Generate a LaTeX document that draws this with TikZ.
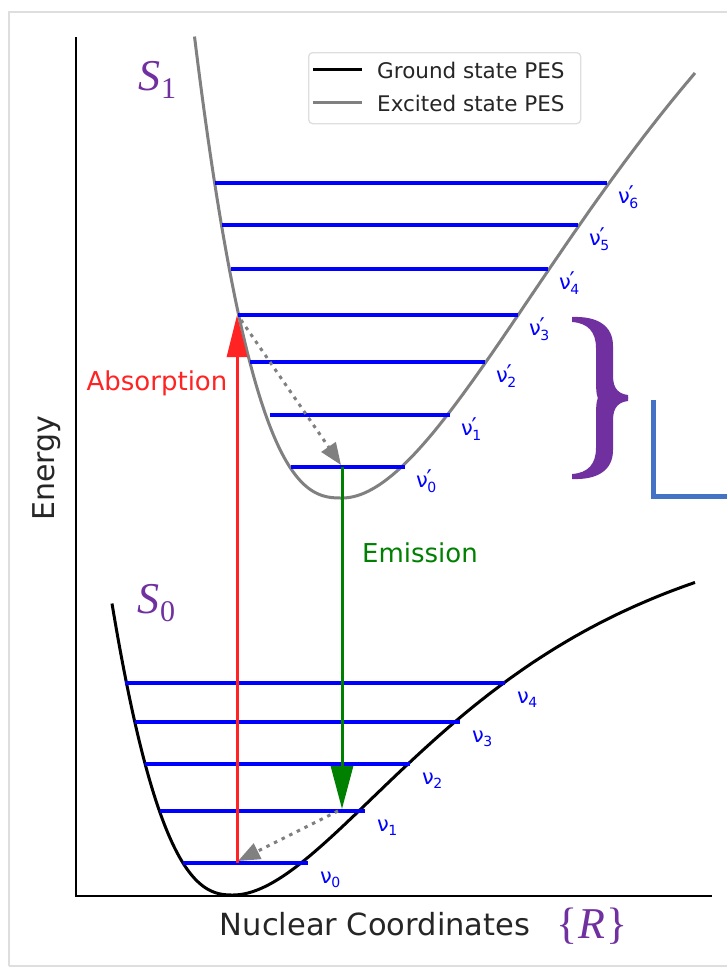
\documentclass[tikz,border=0pt]{standalone}
\usepackage{graphicx}
\usepackage[no-math]{fontspec}
\setmainfont{DejaVu Sans}
\newfontfamily\serifs{Liberation Serif}
\usetikzlibrary{arrows.meta}
\definecolor{lvblue}{RGB}{0,0,255}
\definecolor{pesgray}{RGB}{128,128,128}
\definecolor{spurple}{RGB}{112,48,160}
\definecolor{lblue}{RGB}{68,114,196}
\definecolor{absred}{RGB}{255,35,35}
\definecolor{emgreen}{RGB}{0,128,0}
\definecolor{framegray}{RGB}{222,222,222}
\newcommand\nul[1]{ν\kern-0.5pt\raisebox{-4pt}{\fontsize{14}{14}\selectfont #1}}
\newcommand\nupl[1]{ν\kern-1.2pt\raisebox{0.5pt}{\fontsize{23}{23}\selectfont ′}\kern-4.5pt\raisebox{-5pt}{\fontsize{14}{14}\selectfont #1}}
\newcommand\stlab[1]{{\itshape S}\kern1pt\raisebox{-8pt}{\fontsize{30}{30}\selectfont #1}}
\tikzset{
  pes/.style={line width=3pt, line join=round},
  level/.style={lvblue, line width=3.3pt},
  lvlab/.style={lvblue, font=\fontsize{21}{21}\selectfont, anchor=base west, inner sep=0pt},
  slab/.style={spurple, font=\serifs\fontsize{44}{44}\selectfont, inner sep=0pt},
  relax/.style={pesgray, line width=3pt, dash pattern=on 3.5pt off 5pt, -{Triangle[length=22pt,width=17pt]}},
}
\begin{document}
\begin{tikzpicture}[x=1pt,y=-1pt]
\useasboundingbox (0,0) rectangle (727,969);
\fill[white] (0,0) rectangle (727,969);
% outer frame
\draw[framegray, line width=1.5pt] (9,966) -- (9,12) -- (729,12);
\draw[framegray, line width=1.5pt] (9,966) -- (729,966);
% axes
\draw[black, line width=1.8pt] (76,37) -- (76,896) -- (712,896);
% legend
\node (legbox) [draw=framegray, line width=1.3pt, rounded corners=4pt, minimum width=272pt, minimum height=71pt, anchor=north west, inner sep=0pt] at (308,52) {};
\draw[black, line width=3pt] (313,69) -- (362,69);
\draw[pesgray, line width=3pt] (313,102) -- (362,102);
\node (leg1) [anchor=west, inner sep=0pt, font=\fontsize{21.5}{21.5}\selectfont, text=black!85] at (377,70) {Ground state PES};
\node (leg2) [anchor=west, inner sep=0pt, font=\fontsize{21.5}{21.5}\selectfont, text=black!85] at (377,103) {Excited state PES};
% axis labels
\node (xlab) [anchor=base, inner sep=0pt, font=\fontsize{30.5}{30.5}\selectfont, text=black!85] at (375,935) {Nuclear Coordinates};
\node (ylab) [rotate=90, inner sep=0pt, font=\fontsize{30}{30}\selectfont, text=black!85] at (47,468) {Energy};
% PES curves
\draw[pes, pesgray] plot[domain=194.5:341.9, samples=80] (\x, {498-168*((342-\x)/100)^2*sqrt((342-\x)/100)^1.2})
  -- plot[domain=342:695, samples=120] (\x, {498-801*(1-exp(-0.0037*(\x-342)))^2});
\draw[pes, black] plot[domain=112:233, samples=80] (\x, {895-181*((233-\x)/100)^2*sqrt((233-\x)/100)})
  -- plot[domain=233:695, samples=120] (\x, {895-385*(1-exp(-0.005*(\x-233)))^2});
% vibrational levels, excited
\foreach \y/\l/\r/\s/\n in {183/215/607/6/e6, 225/222/578/5/e5, 269/231/548/4/e4, 315/238/518/3/e3, 362/250/485/2/e2, 415/270/450/1/e1, 467/291/405/0/e0}{
  \draw[level] (\l,\y) -- (\r,\y);
  \node[lvlab] (\n) at (\r+11,\y+20) {\nupl{\s}};
}
% vibrational levels, ground
\foreach \y/\l/\r/\s/\n in {683/125/505/4/g4, 722/135/460/3/g3, 764/145/410/2/g2, 811/160/365/1/g1, 863/183/308/0/g0}{
  \draw[level] (\l,\y) -- (\r,\y);
  \node[lvlab] (\n) at (\r+12,\y+20) {\nul{\s}};
}
% transitions
\coordinate (absA) at (237,863);
\coordinate (absB) at (237,315);
\coordinate (emA) at (342,467);
\coordinate (emB) at (342,809);
\coordinate (relA) at (241,320);
\coordinate (relB) at (341,465);
\coordinate (relC) at (338,811);
\coordinate (relD) at (238,861);
\draw[relax] (relA) -- (relB);
\draw[relax] (relC) -- (relD);
\draw[absred, line width=3pt, -{Triangle[length=42pt,width=20pt]}] (absA) -- (absB);
\draw[emgreen, line width=3pt, -{Triangle[length=43pt,width=22pt]}] (emA) -- (emB);
\node (abslab) [absred, inner sep=0pt, font=\fontsize{26}{26}\selectfont] at (157,383) {Absorption};
\node (emlab) [emgreen, inner sep=0pt, font=\fontsize{26}{26}\selectfont] at (420,553) {Emission};
% state labels
\node (s1) [slab] at (157,80) {\stlab{1}};
\node (s0) [slab] at (156,603) {\stlab{0}};
\node (rlab) [slab] at (592,926) {\{\kern1pt{\itshape R}\kern1pt\}};
% brace
\begin{scope}[shift={(628,398)}]
  \fill[spurple] (-56,-81) .. controls (-30,-82) and (-15,-72) .. (-15,-52) -- (-15,-22) .. controls (-15,-8) and (-8,-4) .. (0,-3) -- (0,0.6) -- (-30,0.6) .. controls (-32,-4) and (-32,-12) .. (-32,-22) -- (-32,-50) .. controls (-32,-66) and (-40,-75) .. (-56,-76) -- cycle;
\end{scope}
\begin{scope}[shift={(628,398)}, yscale=-1]
  \fill[spurple] (-56,-81) .. controls (-30,-82) and (-15,-72) .. (-15,-52) -- (-15,-22) .. controls (-15,-8) and (-8,-4) .. (0,-3) -- (0,0.6) -- (-30,0.6) .. controls (-32,-4) and (-32,-12) .. (-32,-22) -- (-32,-50) .. controls (-32,-66) and (-40,-75) .. (-56,-76) -- cycle;
\end{scope}
% blue corner mark
\draw[lblue, line width=5pt, line join=miter] (653,400) -- (653,496) -- (727,496);
\end{tikzpicture}
\end{document}
